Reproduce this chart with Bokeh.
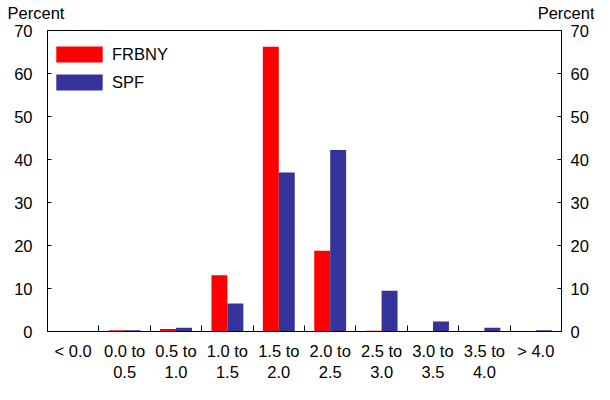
from bokeh.plotting import figure
from bokeh.models import (ColumnDataSource, FixedTicker, LinearAxis, Range1d,
                          Legend, LegendItem)
from bokeh.embed import file_html
from bokeh.resources import INLINE

categories = ["< 0.0", "0.0 to\n0.5", "0.5 to\n1.0", "1.0 to\n1.5", "1.5 to\n2.0",
              "2.0 to\n2.5", "2.5 to\n3.0", "3.0 to\n3.5", "3.5 to\n4.0", "> 4.0"]
frbny = [0.0, 0.3, 0.6, 13.1, 66.2, 18.8, 0.2, 0.0, 0.0, 0.0]
spf = [0.0, 0.3, 0.9, 6.5, 37.0, 42.2, 9.5, 2.3, 0.9, 0.3]
y_ticks = [0, 10, 20, 30, 40, 50, 60, 70]
unit_label = "Percent"

FONT = "Liberation Sans"
FS = "16.5px"
RED = "#FF0000"
BLUE = "#333399"

n = len(categories)
xs = list(range(n))
bw = 0.31
src = ColumnDataSource(dict(
    x_f=[x - bw / 2 for x in xs], x_s=[x + bw / 2 for x in xs],
    frbny=frbny, spf=spf))

BL, BR, BT, BB = 47, 33, 30, 53
W, H = 594, 384
p = figure(width=W, height=H, output_backend="svg", toolbar_location=None,
           x_range=Range1d(-0.5, n - 0.5), y_range=Range1d(0, 70),
           min_border_left=BL, min_border_right=BR, min_border_top=BT,
           min_border_bottom=BB)
p.xgrid.visible = False
p.ygrid.visible = False
p.outline_line_color = "black"
p.outline_line_width = 1
p.background_fill_color = "white"
p.border_fill_color = "white"

r1 = p.vbar(x="x_f", top="frbny", width=bw, source=src, fill_color=RED, line_color=None)
r2 = p.vbar(x="x_s", top="spf", width=bw, source=src, fill_color=BLUE, line_color=None)

# x axis: labels at category centres, tick marks at category boundaries
xa = p.xaxis[0]
xa.ticker = FixedTicker(ticks=xs, minor_ticks=[x + 0.5 for x in xs[:-1]])
xa.major_label_overrides = {i: c for i, c in enumerate(categories)}
xa.major_tick_in = 0
xa.major_tick_out = 0
xa.minor_tick_in = 6
xa.minor_tick_out = 0
xa.minor_tick_line_color = "black"
xa.axis_line_color = "black"
xa.major_label_text_font = FONT
xa.major_label_text_font_size = FS
xa.major_label_text_color = "black"
xa.major_label_standoff = 10
xa.major_label_text_line_height = 1.2

def style_y(ax):
    ax.ticker = FixedTicker(ticks=y_ticks)
    ax.major_tick_in = 4
    ax.major_tick_out = 0
    ax.minor_tick_in = 0
    ax.minor_tick_out = 0
    ax.axis_line_color = "black"
    ax.major_tick_line_color = "black"
    ax.major_label_text_font = FONT
    ax.major_label_text_font_size = FS
    ax.major_label_text_color = "black"

ya = p.yaxis[0]
style_y(ya)
ya.major_label_standoff = 15
yr = LinearAxis()
style_y(yr)
yr.major_label_standoff = 9
p.add_layout(yr, "right")

# "Percent" unit labels above both y axes, drawn as labels of a bare top axis
nb = "\u00a0"
top = LinearAxis(ticker=FixedTicker(ticks=[-0.5, n - 0.5]),
                 major_label_overrides={-0.5: unit_label + nb * 5,
                                        n - 0.5: nb * 3 + unit_label})
top.axis_line_color = None
top.major_tick_line_color = None
top.minor_tick_line_color = None
top.major_tick_in = 0
top.major_tick_out = 0
top.major_label_standoff = 9
top.major_label_text_font = FONT
top.major_label_text_font_size = FS
top.major_label_text_color = "black"
p.add_layout(top, "above")

fh = H - BT - BB
legend = Legend(items=[LegendItem(label="FRBNY", renderers=[r1]),
                       LegendItem(label="SPF", renderers=[r2])],
                location=(3, fh - 62), padding=4, margin=0,
                glyph_width=58, glyph_height=20, spacing=8, label_standoff=4,
                border_line_color=None, background_fill_alpha=0,
                label_text_font=FONT, label_text_font_size=FS,
                label_text_color="black")
p.add_layout(legend, "center")

open("out.html", "w").write(file_html(p, INLINE))
